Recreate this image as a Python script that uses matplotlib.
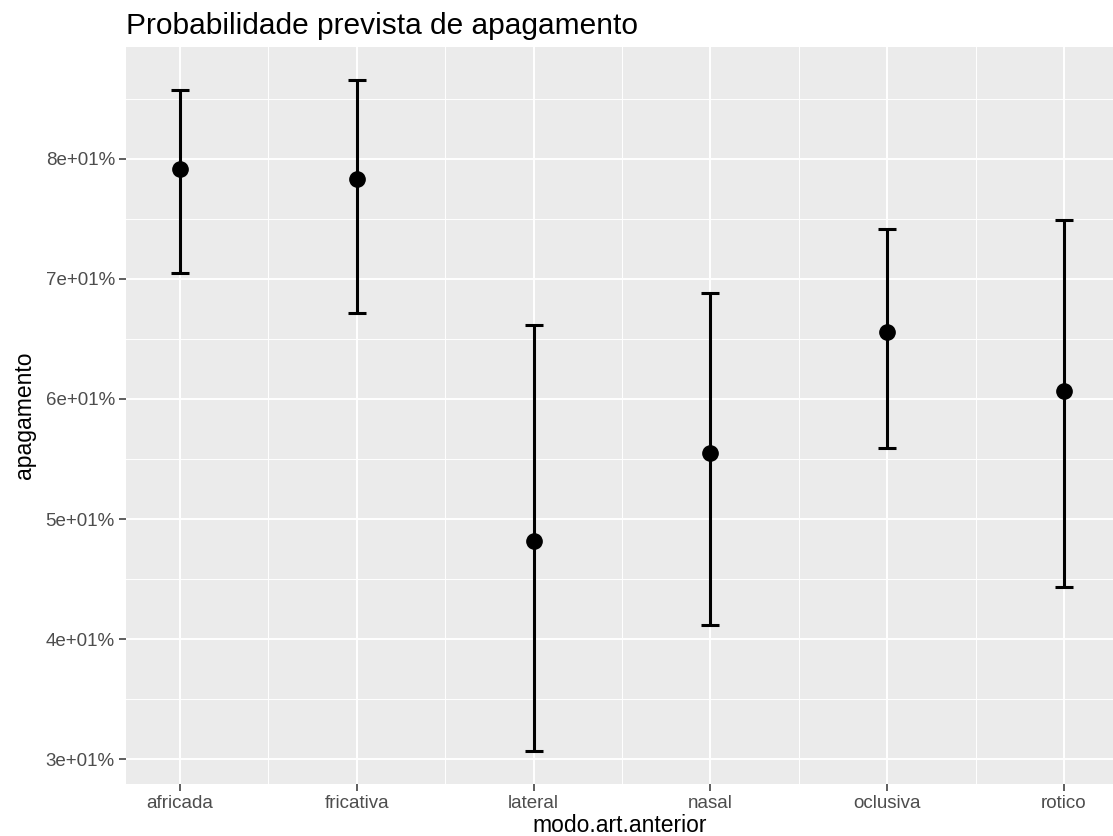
import matplotlib
matplotlib.use("Agg")
import matplotlib.pyplot as plt
from matplotlib.ticker import FixedLocator

# predicted probabilities with confidence limits
categorias = ["africada", "fricativa", "lateral", "nasal", "oclusiva", "rotico"]
prob = [0.7914, 0.7836, 0.4817, 0.5547, 0.6561, 0.6064]
lim_inf = [0.7053, 0.6719, 0.3067, 0.4117, 0.5592, 0.4430]
lim_sup = [0.8575, 0.8656, 0.6614, 0.6886, 0.7414, 0.7489]
y_ticks = [0.3, 0.4, 0.5, 0.6, 0.7, 0.8]
y_labels = ["3e+01%", "4e+01%", "5e+01%", "6e+01%", "7e+01%", "8e+01%"]

plt.rcParams["font.family"] = ["Liberation Sans", "DejaVu Sans"]

fig = plt.figure(figsize=(11.13, 8.36), dpi=100)
ax = fig.add_axes([126 / 1113, 52 / 836, (1113 - 126) / 1113, (784 - 47) / 836])
ax.set_facecolor("#EBEBEB")
for s in ax.spines.values():
    s.set_visible(False)

x = list(range(1, len(categorias) + 1))
err_lo = [p - l for p, l in zip(prob, lim_inf)]
err_hi = [u - p for p, u in zip(prob, lim_sup)]
ax.errorbar(x, prob, yerr=[err_lo, err_hi], fmt="o", color="black",
            ms=11, elinewidth=2.2, capsize=6.4, capthick=2.2, zorder=3)

ax.set_xlim(0.6946, 6.277)
ax.set_ylim(0.2792, 0.8933)

ax.set_xticks(x)
ax.set_xticklabels(categorias)
ax.xaxis.set_minor_locator(FixedLocator([i + 0.5 for i in x]))
ax.set_yticks(y_ticks)
ax.set_yticklabels(y_labels)
ax.yaxis.set_minor_locator(FixedLocator([t + 0.05 for t in y_ticks]))

ax.grid(which="major", color="white", linewidth=1.4)
ax.grid(which="minor", color="white", linewidth=0.7)
ax.set_axisbelow(True)

ax.tick_params(which="major", length=5, width=1.1, color="#333333",
               labelcolor="#4D4D4D", labelsize=13.5, pad=3)
ax.tick_params(which="minor", length=0)

ax.set_xlabel("modo.art.anterior", fontsize=16.5, labelpad=1)
ax.set_ylabel("apagamento", fontsize=16.5, labelpad=7)
ax.set_title("Probabilidade prevista de apagamento", loc="left",
             fontsize=21.5, pad=9)

fig.savefig("out.png", dpi=100)
